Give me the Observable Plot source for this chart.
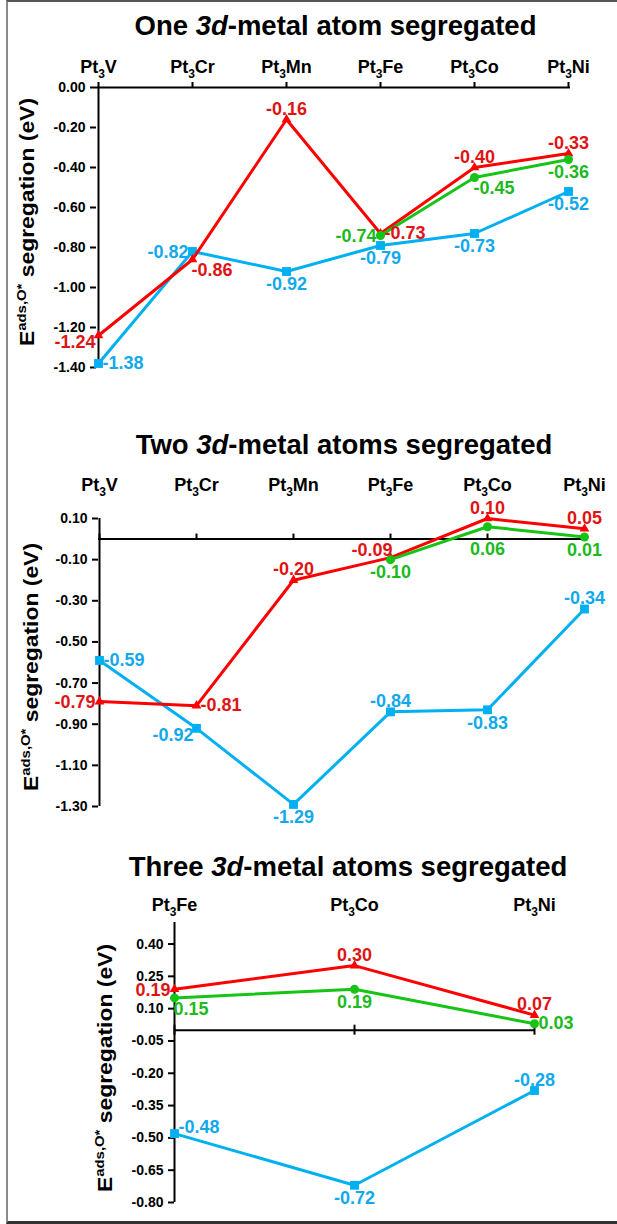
<!DOCTYPE html>
<html>
<head>
<meta charset="utf-8">
<script src="https://cdn.jsdelivr.net/npm/d3@7"></script>
<script src="https://cdn.jsdelivr.net/npm/@observablehq/plot@0.6"></script>
<style>
html,body{margin:0;padding:0;background:#fff;}
#fig{position:relative;width:617px;height:1224px;overflow:hidden;background:#fff;font-family:"Liberation Sans",Arial,sans-serif;}
#frame{position:absolute;left:6px;top:0;width:700px;height:1224px;box-sizing:border-box;border-left:2px solid #8a8a8a;border-top:2px solid #555;border-bottom:3px solid #333;}
.panel{position:absolute;left:0;}
</style>
</head>
<body>
<div id="fig"><div id="frame"></div></div>
<script>
// ---------- data ----------
const cats6 = ["Pt3V","Pt3Cr","Pt3Mn","Pt3Fe","Pt3Co","Pt3Ni"];
const cats3 = ["Pt3Fe","Pt3Co","Pt3Ni"];

const oneRed   = [-1.24,-0.86,-0.16,-0.73,-0.40,-0.33];
const oneBlue  = [-1.38,-0.82,-0.92,-0.79,-0.73,-0.52];
const oneGreen = [null,null,null,-0.74,-0.45,-0.36];
const oneTicks = [0,-0.2,-0.4,-0.6,-0.8,-1.0,-1.2,-1.4];

const twoRed   = [-0.79,-0.81,-0.20,-0.09,0.10,0.05];
const twoBlue  = [-0.59,-0.92,-1.29,-0.84,-0.83,-0.34];
const twoGreen = [null,null,null,-0.10,0.06,0.01];
const twoTicks = [0.1,-0.1,-0.3,-0.5,-0.7,-0.9,-1.1,-1.3];

const threeRed   = [0.19,0.30,0.07];
const threeGreen = [0.15,0.19,0.03];
const threeBlue  = [-0.48,-0.72,-0.28];
const threeTicks = [0.40,0.25,0.10,-0.05,-0.20,-0.35,-0.50,-0.65,-0.80];

// value-label placement keywords
const oneRedPos   = ["bl","br","t","r","t","t"];
const oneBluePos  = ["r","l","b","b","b","b"];
const oneGreenPos = [null,null,null,"l","br","b"];
const twoRedPos   = ["l","r","t","tl","t","t"];
const twoBluePos  = ["r","bl","b","t","b","t"];
const twoGreenPos = [null,null,null,"b","bb","b"];
const threeRedPos   = ["l","t","t"];
const threeGreenPos = ["br","b","r"];
const threeBluePos  = ["tr","b","t"];

const titles = [
  ["One ", "3d", "-metal atom segregated"],
  ["Two ", "3d", "-metal atoms segregated"],
  ["Three ", "3d", "-metal atoms segregated"]
];
const yTitle = ["E", "ads,O*", " segregation (eV)"];

// ---------- styles ----------
const FONT = "'Liberation Sans', Arial, Helvetica, sans-serif";
const styles = {
  red:   {line:"#ff0000", text:"#e01414", symbol:"triangle", r:3.6, weight:"bold"},
  blue:  {line:"#00b0f0", text:"#12a9ec", symbol:"square",   r:5,   weight:"bold"},
  green: {line:"#16c416", text:"#1cba1c", symbol:"circle",   r:4.5, weight:"bold"}
};
const place = {
  t:  {dx:0,  dy:-5, ta:"middle", la:"bottom"},
  b:  {dx:0,  dy:6,  ta:"middle", la:"top"},
  bb: {dx:0,  dy:15, ta:"middle", la:"top"},
  l:  {dx:-4, dy:1,  ta:"end",    la:"middle"},
  r:  {dx:4,  dy:0,  ta:"start",  la:"middle"},
  tl: {dx:2,  dy:-2, ta:"end",    la:"bottom"},
  tr: {dx:4,  dy:-1, ta:"start",  la:"bottom"},
  bl: {dx:-3, dy:0,  ta:"end",    la:"top"},
  br: {dx:-1, dy:4,  ta:"start",  la:"top"}
};

function build(cfg) {
  const {cats, series, yDomain, yTicks, height, mt, mb, ml, mr, cross, catDy} = cfg;
  const pxPerUnit = (height - mt - mb) / (yDomain[1] - yDomain[0]);
  const tk = 5 / pxPerUnit;
  const marks = [
    Plot.ruleY([0], {stroke:"#000", strokeWidth:2}),
    Plot.ruleX(cats, {x: d => d, y1: cross ? -tk : 0, y2: tk, stroke:"#000", strokeWidth:2}),
    Plot.ruleX([cats[0]], {stroke:"#000", strokeWidth:2}),
    Plot.axisY({ticks: yTicks, tickFormat: d => d.toFixed(2), tickSize:6, tickPadding:5,
      fontSize:14, fontWeight:"bold", strokeWidth:2, label:null}),
    Plot.text(cats, {x: d => d, frameAnchor:"top", dy: catDy, text: d => d, fontSize:18,
      fontWeight:"bold", lineAnchor:"middle", fill:"#000"})
  ];
  const sets = series.map(s => ({
    st: styles[s.color],
    data: cats.map((c, i) => ({c, v: s.values[i], pos: s.pos[i]})).filter(d => d.v != null)
  }));
  for (const {st, data} of sets) {
    marks.push(Plot.line(data, {x:"c", y:"v", stroke: st.line, strokeWidth:3}));
    marks.push(Plot.dot(data, {x:"c", y:"v", symbol: st.symbol, fill: st.line, r: st.r}));
  }
  for (const {st, data} of sets) {
    for (const [key, p] of Object.entries(place)) {
      const sub = data.filter(d => d.pos === key);
      if (!sub.length) continue;
      marks.push(Plot.text(sub, {x:"c", y:"v", text: d => d.v.toFixed(2), dx:p.dx, dy:p.dy,
        textAnchor:p.ta, lineAnchor:p.la, fill: st.text, fontSize:18, fontWeight: st.weight}));
    }
  }
  const svg = Plot.plot({
    width: 617, height, marginTop: mt, marginBottom: mb, marginLeft: ml, marginRight: mr,
    x: {type:"point", domain: cats, padding: 0, axis: null},
    y: {domain: yDomain, axis: null},
    style: {fontFamily: FONT, background:"transparent", overflow:"visible", color:"#000"},
    marks
  });
  const sel = d3.select(svg);
  // subscripts in category labels
  sel.selectAll("text").filter(function() { return /^Pt3/.test(this.textContent); }).each(function() {
    const s = this.textContent;
    const m = s.match(/^(Pt)(3)(.*)$/);
    if (!m) return;
    this.textContent = "";
    const t = d3.select(this);
    t.append("tspan").text(m[1]);
    t.append("tspan").attr("font-size", 12).attr("dy", 5).text(m[2]);
    t.append("tspan").attr("dy", -5).text(m[3]);
  });
  // title
  const tt = sel.append("text").attr("x", cfg.titleX).attr("y", cfg.titleY)
    .attr("text-anchor", "middle").attr("font-size", 27.5).attr("font-weight", "bold")
    .attr("font-family", FONT).attr("fill", "#000");
  tt.append("tspan").text(cfg.title[0]);
  tt.append("tspan").attr("font-style", "italic").text(cfg.title[1]);
  tt.append("tspan").text(cfg.title[2]);
  // y title
  const yt = sel.append("text")
    .attr("transform", `translate(${cfg.ytX},${cfg.ytY}) rotate(-90)`)
    .attr("text-anchor", "middle").attr("font-size", 20).attr("font-weight", "bold")
    .attr("font-family", FONT).attr("fill", "#000")
    .attr("textLength", 248).attr("lengthAdjust", "spacingAndGlyphs");
  yt.append("tspan").text(yTitle[0]);
  yt.append("tspan").attr("font-size", 13).attr("dy", -8).text(yTitle[1]);
  yt.append("tspan").attr("font-size", 20).attr("dy", 8).text(yTitle[2]);

  const div = document.createElement("div");
  div.className = "panel";
  div.style.top = cfg.top + "px";
  div.appendChild(svg);
  document.getElementById("fig").appendChild(div);
}

build({
  cats: cats6, yDomain: [-1.4, 0], yTicks: oneTicks, top: 0, height: 395,
  mt: 87, mb: 28, ml: 96, mr: 47, cross: false, catDy: -20,
  title: titles[0], titleX: 335.5, titleY: 35, ytX: 34, ytY: 222,
  series: [
    {color:"blue", values: oneBlue, pos: oneBluePos},
    {color:"red", values: oneRed, pos: oneRedPos},
    {color:"green", values: oneGreen, pos: oneGreenPos}
  ]
});
build({
  cats: cats6, yDomain: [-1.3, 0.1], yTicks: twoTicks, top: 400, height: 430,
  mt: 118, mb: 24, ml: 98, mr: 32, cross: false, catDy: -33,
  title: titles[1], titleX: 344, titleY: 54, ytX: 38, ytY: 267,
  series: [
    {color:"blue", values: twoBlue, pos: twoBluePos},
    {color:"red", values: twoRed, pos: twoRedPos},
    {color:"green", values: twoGreen, pos: twoGreenPos}
  ]
});
build({
  cats: cats3, yDomain: [-0.8, 0.5], yTicks: threeTicks, top: 830, height: 394,
  mt: 92, mb: 22, ml: 174, mr: 83, cross: true, catDy: -17,
  title: titles[2], titleX: 348, titleY: 46, ytX: 112, ytY: 238,
  series: [
    {color:"blue", values: threeBlue, pos: threeBluePos},
    {color:"red", values: threeRed, pos: threeRedPos},
    {color:"green", values: threeGreen, pos: threeGreenPos}
  ]
});
</script>
</body>
</html>
